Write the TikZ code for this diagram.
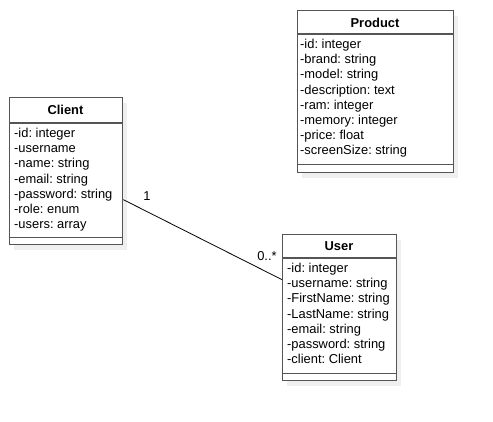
\documentclass[tikz,border=0pt]{standalone}
\usepackage{fontspec}
\setmainfont{Liberation Sans}
\frenchspacing
\definecolor{boxgray}{HTML}{555555}
\definecolor{shadegray}{HTML}{EFEFEF}
\begin{document}
\begin{tikzpicture}[x=1pt, y=-1pt, font=\fontsize{12.9}{15.2}\selectfont,
  classbox/.style={draw=boxgray, line width=1.3pt, fill=white, anchor=north west, inner sep=0pt},
  classname/.style={font=\fontsize{12.9}{15.2}\selectfont\bfseries, inner sep=0pt},
  attrlist/.style={anchor=north west, align=left, inner sep=0pt},
  divider/.style={draw=boxgray, line width=1.3pt}]
\useasboundingbox (0,0) rectangle (493,421);
\fill[shadegray] (14,103) rectangle ++(113,147);
\fill[shadegray] (302,16) rectangle ++(156,162);
\fill[shadegray] (287,240) rectangle ++(114,146);
% Client
\node[classbox, minimum width=113pt, minimum height=147pt] (client) at (9,97) {};
\node[classname] (clientname) at (65.5,110) {Client};
\draw[divider] ([yshift=-26pt]client.north west) -- ([yshift=-26pt]client.north east);
\draw[divider] ([yshift=8pt]client.south west) -- ([yshift=8pt]client.south east);
\node[attrlist] (clientattrs) at (14,128) {-id: integer\\-username\\-name: string\\-email: string\\-password: string\\-role: enum\\-users: array};
% Product
\node[classbox, minimum width=156pt, minimum height=162pt] (product) at (297,10) {};
\node[classname] (productname) at (375,22.5) {Product};
\draw[divider] ([yshift=-24pt]product.north west) -- ([yshift=-24pt]product.north east);
\draw[divider] ([yshift=9pt]product.south west) -- ([yshift=9pt]product.south east);
\node[attrlist] (productattrs) at (300,39) {-id: integer\\-brand: string\\-model: string\\-description: text\\-ram: integer\\-memory: integer\\-price: float\\-screenSize: string};
% User
\node[classbox, minimum width=114pt, minimum height=146pt] (user) at (282,234) {};
\node[classname] (username) at (339,246.5) {User};
\draw[divider] ([yshift=-24pt]user.north west) -- ([yshift=-24pt]user.north east);
\draw[divider] ([yshift=8pt]user.south west) -- ([yshift=8pt]user.south east);
\node[attrlist] (userattrs) at (287,263) {-id: integer\\-username: string\\-FirstName: string\\-LastName: string\\-email: string\\-password: string\\-client: Client};
% association
\draw[line width=0.8pt] ([yshift=-28.5pt]client.east) -- ([yshift=28pt]user.west);
\node (one) at (147,196) {1};
\node (many) at (267,256) {0..*};
\end{tikzpicture}
\end{document}
